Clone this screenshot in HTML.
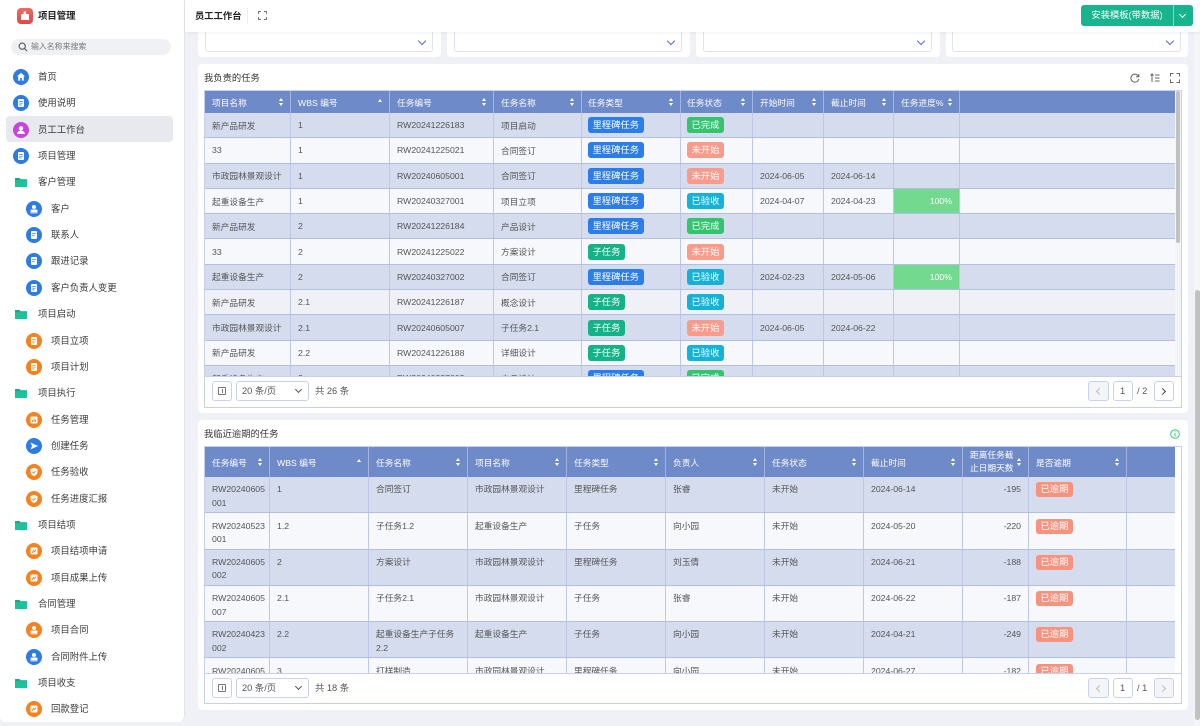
<!DOCTYPE html>
<html><head><meta charset="utf-8">
<style>
*{margin:0;padding:0;box-sizing:border-box}
body{width:1200px;height:726px;overflow:hidden;background:#eff1f6;font-family:"Liberation Sans","Noto Sans CJK SC",sans-serif;position:relative;color:#444}
.a{position:absolute}
/* sidebar */
#sb{position:absolute;left:0;top:0;width:185px;height:722px;background:#fff;border-right:1px solid #e3e5ea;border-radius:0 0 6px 6px}
.mi{position:absolute;font-size:9.4px;line-height:14px;color:#3a3a3a;white-space:nowrap}
.ic{position:absolute;width:16px;height:16px}
.fd{position:absolute;width:12px;height:10px}
/* header */
#hdr{position:absolute;left:185px;top:0;width:1015px;height:32px;background:#fff;box-shadow:0 1px 3px rgba(0,0,0,.06);z-index:5}
/* cards */
.card{position:absolute;background:#fff;border-radius:4px}
.sel{position:absolute;background:#fff;border:1px solid #dfe3ec;border-radius:3px}
.chev{position:absolute;width:6px;height:6px;border-right:1.3px solid #4d72c9;border-bottom:1.3px solid #4d72c9;transform:rotate(45deg)}
/* tables */
.tw{position:absolute;left:204px;width:978px;border:1px solid #c6cfeb;background:#fff}
.t{position:absolute;left:205px;width:970px;overflow:hidden}
.hd{display:flex;background:#6f8ac8;color:#fff;font-size:8.7px}
.hd>div{position:relative;border-right:1px solid #a3b3de;padding-left:7px;display:flex;align-items:center;white-space:nowrap}
.s{position:absolute;right:6px;top:50%;width:5px;height:8px;margin-top:-4px}
.s::before{content:"";position:absolute;left:0;top:0;border-left:2.5px solid transparent;border-right:2.5px solid transparent;border-bottom:3px solid #fff}
.s::after{content:"";position:absolute;left:0;bottom:0;border-left:2.5px solid transparent;border-right:2.5px solid transparent;border-top:3px solid #fff}
.s.up::after{display:none}
.s.up{margin-top:-3px}
.r{display:flex;border-bottom:1px solid #b2bfe4;font-size:8.7px;color:#555}
.r>div{border-right:1px solid #bdc8e9;padding-left:7px;display:flex;align-items:center;white-space:nowrap;overflow:hidden}
.o{background:#d4dcee}.e{background:#f7f8fc}.hv{background:#eff1f6}
.t1 .hd{height:22px}
.t1 .r{height:25.3px}
.t1 .hd>div:nth-child(1),.t1 .r>div:nth-child(1){width:86px}
.t1 .hd>div:nth-child(2),.t1 .r>div:nth-child(2){width:99px}
.t1 .hd>div:nth-child(3),.t1 .r>div:nth-child(3){width:104px}
.t1 .hd>div:nth-child(4),.t1 .r>div:nth-child(4){width:88px}
.t1 .hd>div:nth-child(5),.t1 .r>div:nth-child(5){width:99px;padding-left:6px}
.t1 .hd>div:nth-child(6),.t1 .r>div:nth-child(6){width:72px;padding-left:6px}
.t1 .hd>div:nth-child(7),.t1 .r>div:nth-child(7){width:71px}
.t1 .hd>div:nth-child(8),.t1 .r>div:nth-child(8){width:70px}
.t1 .hd>div:nth-child(9),.t1 .r>div:nth-child(9){width:66px}
.t1 .hd>div:nth-child(10),.t1 .r>div:nth-child(10){width:215px;border-right:none}
.pg{background:#72d98f;color:#fff;justify-content:flex-end;padding-right:7px}
.tag{display:inline-block;height:16px;line-height:16px;padding:0 4.5px;border-radius:3px;color:#fff;font-size:9.3px}
.lc{background:#2b7de9}.zr{background:#14b387}.wc{background:#33c46f}.wk{background:#f89b8b}.ys{background:#15b2d8}.yq{background:#f6937f}
.t2 .hd{height:30px}
.t2 .r{height:36.3px}
.t2 .r>div{align-items:flex-start;padding-top:6.3px;line-height:13.4px;white-space:nowrap}
.t2 .hd>div:nth-child(1),.t2 .r>div:nth-child(1){width:65px}
.t2 .hd>div:nth-child(2),.t2 .r>div:nth-child(2){width:99px}
.t2 .hd>div:nth-child(3),.t2 .r>div:nth-child(3){width:99px}
.t2 .hd>div:nth-child(4),.t2 .r>div:nth-child(4){width:99px}
.t2 .hd>div:nth-child(5),.t2 .r>div:nth-child(5){width:99px}
.t2 .hd>div:nth-child(6),.t2 .r>div:nth-child(6){width:99px}
.t2 .hd>div:nth-child(7),.t2 .r>div:nth-child(7){width:99px}
.t2 .hd>div:nth-child(8),.t2 .r>div:nth-child(8){width:99px}
.t2 .hd>div:nth-child(9),.t2 .r>div:nth-child(9){width:66px}
.t2 .hd>div:nth-child(10),.t2 .r>div:nth-child(10){width:98px}
.t2 .hd>div:nth-child(11),.t2 .r>div:nth-child(11){width:48px;border-right:none}
.t2 .r>div.num{justify-content:flex-end;padding-right:7px;padding-left:0}
.t2 .tag{height:15px;line-height:15px;margin-left:0;margin-top:-1px}
.btn{position:absolute;border:1px solid #c9d2ec;border-radius:3px;background:#fff}
.txt{position:absolute;font-size:9.3px;color:#555;white-space:nowrap;line-height:12px}
</style></head><body>

<!-- SIDEBAR -->
<div id="sb">
  <div class="a" style="left:17px;top:8px;width:16px;height:16px;border-radius:4px;background:linear-gradient(#f06a62,#e04848)"></div>
  <svg class="a" style="left:20px;top:11px" width="10" height="10" viewBox="0 0 10 10"><path d="M1 3h2.5v-1.5a1.3 1.3 0 0 1 2.6 0v1.5h2.9v6h-8z" fill="#fff"/></svg>
  <div class="mi" style="left:38px;top:9px;font-weight:bold;color:#222">项目管理</div>
  <div class="a" style="left:11px;top:39px;width:160px;height:16px;border-radius:8px;background:#f0f1f4"></div>
  <svg class="a" style="left:18px;top:42px" width="10" height="10" viewBox="0 0 10 10"><circle cx="4.2" cy="4.2" r="3.1" fill="none" stroke="#555" stroke-width="1.1"/><path d="M6.5 6.5l2.5 2.5" stroke="#555" stroke-width="1.1"/></svg>
  <div class="mi" style="left:31px;top:40px;font-size:7.9px;color:#777">输入名称来搜索</div>
  <div class="a" style="left:6px;top:116px;width:167px;height:26px;border-radius:4px;background:#e8e9ee"></div>

  <!-- level 0 -->
  <svg class="ic" style="left:13px;top:69px" viewBox="0 0 16 16"><circle cx="8" cy="8" r="8" fill="#2e7be4"/><path d="M8 3.8l4 3.6h-1.2v4.2h-2v-2.6h-1.6v2.6h-2v-4.2h-1.2z" fill="#fff"/></svg>
  <div class="mi" style="left:38px;top:70px">首页</div>
  <svg class="ic" style="left:13px;top:95.3px" viewBox="0 0 16 16"><circle cx="8" cy="8" r="8" fill="#2e7be4"/><rect x="5" y="4" width="6" height="8" rx="1" fill="#fff"/><path d="M6.2 6.5h3.6M6.2 8.2h3.6M6.2 9.9h2.4" stroke="#2e7be4" stroke-width=".7"/></svg>
  <div class="mi" style="left:38px;top:96.3px">使用说明</div>
  <svg class="ic" style="left:13px;top:121.7px" viewBox="0 0 16 16"><circle cx="8" cy="8" r="8" fill="#c844dc"/><circle cx="8" cy="6.3" r="2.2" fill="#fff"/><path d="M4.2 12c0-2.4 1.7-3.4 3.8-3.4s3.8 1 3.8 3.4z" fill="#fff"/></svg>
  <div class="mi" style="left:38px;top:122.7px">员工工作台</div>
  <svg class="ic" style="left:13px;top:148px" viewBox="0 0 16 16"><circle cx="8" cy="8" r="8" fill="#2e7be4"/><rect x="5" y="4" width="6" height="8" rx="1" fill="#fff"/><path d="M6.2 6.5h3.6M6.2 8.2h3.6M6.2 9.9h2.4" stroke="#2e7be4" stroke-width=".7"/></svg>
  <div class="mi" style="left:38px;top:149px">项目管理</div>

  <!-- folders -->
  <svg class="fd" style="left:15px;top:177.4px" viewBox="0 0 12 10"><path d="M0 1h4.5l1 1.2H12V10H0z" fill="#17aa87"/><path d="M0 3.2h12V10H0z" fill="#1cc29a"/></svg>
  <div class="mi" style="left:38px;top:175.4px">客户管理</div>
  <svg class="fd" style="left:15px;top:309.2px" viewBox="0 0 12 10"><path d="M0 1h4.5l1 1.2H12V10H0z" fill="#17aa87"/><path d="M0 3.2h12V10H0z" fill="#1cc29a"/></svg>
  <div class="mi" style="left:38px;top:307.2px">项目启动</div>
  <svg class="fd" style="left:15px;top:388.2px" viewBox="0 0 12 10"><path d="M0 1h4.5l1 1.2H12V10H0z" fill="#17aa87"/><path d="M0 3.2h12V10H0z" fill="#1cc29a"/></svg>
  <div class="mi" style="left:38px;top:386.2px">项目执行</div>
  <svg class="fd" style="left:15px;top:520px" viewBox="0 0 12 10"><path d="M0 1h4.5l1 1.2H12V10H0z" fill="#17aa87"/><path d="M0 3.2h12V10H0z" fill="#1cc29a"/></svg>
  <div class="mi" style="left:38px;top:518px">项目结项</div>
  <svg class="fd" style="left:15px;top:599px" viewBox="0 0 12 10"><path d="M0 1h4.5l1 1.2H12V10H0z" fill="#17aa87"/><path d="M0 3.2h12V10H0z" fill="#1cc29a"/></svg>
  <div class="mi" style="left:38px;top:597px">合同管理</div>
  <svg class="fd" style="left:15px;top:678px" viewBox="0 0 12 10"><path d="M0 1h4.5l1 1.2H12V10H0z" fill="#17aa87"/><path d="M0 3.2h12V10H0z" fill="#1cc29a"/></svg>
  <div class="mi" style="left:38px;top:676px">项目收支</div>

  <!-- level 1 -->
  <svg class="ic" style="left:26px;top:200.7px" viewBox="0 0 16 16"><circle cx="8" cy="8" r="8" fill="#2e7be4"/><circle cx="8" cy="6" r="2" fill="#fff"/><rect x="4.5" y="8.5" width="7" height="2.5" rx=".8" fill="#fff"/><rect x="4.5" y="11.3" width="7" height="1" fill="#fff"/></svg>
  <div class="mi" style="left:51px;top:201.7px">客户</div>
  <svg class="ic" style="left:26px;top:227.1px" viewBox="0 0 16 16"><circle cx="8" cy="8" r="8" fill="#2e7be4"/><rect x="5" y="4" width="6" height="8" rx="1" fill="#fff"/><path d="M6.2 6.5h3.6M6.2 8.4h2.4" stroke="#2e7be4" stroke-width=".8"/></svg>
  <div class="mi" style="left:51px;top:228.1px">联系人</div>
  <svg class="ic" style="left:26px;top:253.4px" viewBox="0 0 16 16"><circle cx="8" cy="8" r="8" fill="#2e7be4"/><rect x="5" y="4" width="6" height="8" rx="1" fill="#fff"/><path d="M6.2 6.5h3.6M6.2 8.4h2.4" stroke="#2e7be4" stroke-width=".8"/></svg>
  <div class="mi" style="left:51px;top:254.4px">跟进记录</div>
  <svg class="ic" style="left:26px;top:279.8px" viewBox="0 0 16 16"><circle cx="8" cy="8" r="8" fill="#2e7be4"/><rect x="5" y="4" width="6" height="8" rx="1" fill="#fff"/><path d="M6.2 6.5h3.6M6.2 8.2h3.6M6.2 9.9h2.4" stroke="#2e7be4" stroke-width=".7"/></svg>
  <div class="mi" style="left:51px;top:280.8px">客户负责人变更</div>
  <svg class="ic" style="left:26px;top:332.5px" viewBox="0 0 16 16"><circle cx="8" cy="8" r="8" fill="#f5821f"/><rect x="5" y="4" width="6" height="8" rx="1" fill="#fff"/><path d="M6.2 6.5h3.6M6.2 8.2h3.6M6.2 9.9h2.4" stroke="#f5821f" stroke-width=".7"/></svg>
  <div class="mi" style="left:51px;top:333.5px">项目立项</div>
  <svg class="ic" style="left:26px;top:358.9px" viewBox="0 0 16 16"><circle cx="8" cy="8" r="8" fill="#f5821f"/><rect x="5" y="4" width="6" height="8" rx="1" fill="#fff"/><path d="M6.2 6.5h3.6M6.2 8.2h3.6M6.2 9.9h2.4" stroke="#f5821f" stroke-width=".7"/></svg>
  <div class="mi" style="left:51px;top:359.9px">项目计划</div>
  <svg class="ic" style="left:26px;top:411.6px" viewBox="0 0 16 16"><circle cx="8" cy="8" r="8" fill="#f5821f"/><rect x="4.5" y="4.5" width="7" height="7" rx="1" fill="#fff"/><path d="M6.5 10V8M8 10V6.5M9.5 10V7.5" stroke="#f5821f" stroke-width=".9"/></svg>
  <div class="mi" style="left:51px;top:412.6px">任务管理</div>
  <svg class="ic" style="left:26px;top:437.9px" viewBox="0 0 16 16"><circle cx="8" cy="8" r="8" fill="#2e7be4"/><path d="M4.5 4.5l7.5 3.5-7.5 3.5 1.5-3.5z" fill="#fff"/></svg>
  <div class="mi" style="left:51px;top:438.9px">创建任务</div>
  <svg class="ic" style="left:26px;top:464.3px" viewBox="0 0 16 16"><circle cx="8" cy="8" r="8" fill="#f5821f"/><path d="M8 3.8l3.5 1.3v2.6c0 2.2-1.5 3.6-3.5 4.4-2-.8-3.5-2.2-3.5-4.4V5.1z" fill="#fff"/><path d="M6.4 7.9l1.2 1.2 2-2" stroke="#f5821f" stroke-width=".9" fill="none"/></svg>
  <div class="mi" style="left:51px;top:465.3px">任务验收</div>
  <svg class="ic" style="left:26px;top:490.6px" viewBox="0 0 16 16"><circle cx="8" cy="8" r="8" fill="#f5821f"/><path d="M8 3.8l3.5 1.3v2.6c0 2.2-1.5 3.6-3.5 4.4-2-.8-3.5-2.2-3.5-4.4V5.1z" fill="#fff"/><path d="M6.4 7.9l1.2 1.2 2-2" stroke="#f5821f" stroke-width=".9" fill="none"/></svg>
  <div class="mi" style="left:51px;top:491.6px">任务进度汇报</div>
  <svg class="ic" style="left:26px;top:543.3px" viewBox="0 0 16 16"><circle cx="8" cy="8" r="8" fill="#f5821f"/><rect x="4.5" y="4.5" width="7" height="7" rx="1" fill="#fff"/><path d="M6 10l1.5-2.5 1 1.2 1.5-2" stroke="#f5821f" stroke-width=".9" fill="none"/></svg>
  <div class="mi" style="left:51px;top:544.3px">项目结项申请</div>
  <svg class="ic" style="left:26px;top:569.7px" viewBox="0 0 16 16"><circle cx="8" cy="8" r="8" fill="#f5821f"/><rect x="4.5" y="4.5" width="7" height="7" rx="1" fill="#fff"/><path d="M6 10l1.5-2.5 1 1.2 1.5-2" stroke="#f5821f" stroke-width=".9" fill="none"/></svg>
  <div class="mi" style="left:51px;top:570.7px">项目成果上传</div>
  <svg class="ic" style="left:26px;top:622.4px" viewBox="0 0 16 16"><circle cx="8" cy="8" r="8" fill="#f5821f"/><circle cx="8" cy="6" r="2" fill="#fff"/><rect x="4.5" y="8.5" width="7" height="2.5" rx=".8" fill="#fff"/><rect x="4.5" y="11.3" width="7" height="1" fill="#fff"/></svg>
  <div class="mi" style="left:51px;top:623.4px">项目合同</div>
  <svg class="ic" style="left:26px;top:648.7px" viewBox="0 0 16 16"><circle cx="8" cy="8" r="8" fill="#2e7be4"/><circle cx="8" cy="6" r="2" fill="#fff"/><rect x="4.5" y="8.5" width="7" height="2.5" rx=".8" fill="#fff"/><rect x="4.5" y="11.3" width="7" height="1" fill="#fff"/></svg>
  <div class="mi" style="left:51px;top:649.7px">合同附件上传</div>
  <svg class="ic" style="left:26px;top:701.4px" viewBox="0 0 16 16"><circle cx="8" cy="8" r="8" fill="#f5821f"/><rect x="4.5" y="4.5" width="7" height="7" rx="1" fill="#fff"/><path d="M6 10l1.5-2.5 1 1.2 1.5-2" stroke="#f5821f" stroke-width=".9" fill="none"/></svg>
  <div class="mi" style="left:51px;top:702.4px">回款登记</div>
</div>

<!-- HEADER -->
<div id="hdr">
  <div class="a" style="left:10px;top:9px;font-size:9.3px;line-height:14px;font-weight:bold;color:#222">员工工作台</div>
  <div class="a" style="left:62px;top:8px;width:1px;height:16px;background:#eee"></div>
  <svg class="a" style="left:73px;top:11px" width="9" height="9" viewBox="0 0 9 9" fill="none" stroke="#777" stroke-width="1"><path d="M0.5 3V0.5H3M6 0.5h2.5V3M8.5 6v2.5H6M3 8.5H0.5V6"/></svg>
  <div class="a" style="left:896px;top:5px;width:112px;height:21px;background:#18b48e;border-radius:3px"></div>
  <div class="a" style="left:896px;top:5px;width:92px;height:21px;line-height:21px;text-align:center;color:#fff;font-size:9.3px">安装模板(带数据)</div>
  <div class="a" style="left:988px;top:5px;width:1px;height:21px;background:rgba(255,255,255,.45)"></div>
  <div class="a" style="left:995px;top:11.5px;width:5px;height:5px;border-right:1.2px solid #fff;border-bottom:1.2px solid #fff;transform:rotate(45deg)"></div>
</div>

<!-- FILTER CARDS -->
<div class="card" style="left:198px;top:20px;width:243px;height:37px"></div>
<div class="card" style="left:447px;top:20px;width:243px;height:37px"></div>
<div class="card" style="left:696px;top:20px;width:244px;height:37px"></div>
<div class="card" style="left:946px;top:20px;width:242px;height:37px"></div>
<div class="sel" style="left:205px;top:20px;width:228px;height:32px"></div>
<div class="sel" style="left:454px;top:20px;width:228px;height:32px"></div>
<div class="sel" style="left:703px;top:20px;width:229px;height:32px"></div>
<div class="sel" style="left:952px;top:20px;width:229px;height:32px"></div>
<div class="chev" style="left:419px;top:37.5px"></div>
<div class="chev" style="left:668px;top:37.5px"></div>
<div class="chev" style="left:918px;top:37.5px"></div>
<div class="chev" style="left:1167px;top:37.5px"></div>

<!-- CARD 1 -->
<div class="card" style="left:198px;top:64px;width:990px;height:349px"></div>
<div class="txt" style="left:204px;top:72px;color:#333">我负责的任务</div>
<svg class="a" style="left:1130px;top:73px" width="10" height="10" viewBox="0 0 10 10" fill="none" stroke="#666" stroke-width="1"><path d="M8.6 3.6A4 4 0 1 0 8.8 6"/><path d="M8.8 1v2.8H6"/></svg>
<svg class="a" style="left:1150px;top:73px" width="10" height="10" viewBox="0 0 10 10" fill="none" stroke="#666" stroke-width="1"><path d="M2 9V1M0.5 2.5L2 1l1.5 1.5M5 2h4.5M5 5h4.5M5 8h4.5"/></svg>
<svg class="a" style="left:1170px;top:73px" width="10" height="10" viewBox="0 0 10 10" fill="none" stroke="#666" stroke-width="1"><path d="M0.5 3.5V0.5h3M6.5 0.5h3v3M9.5 6.5v3h-3M3.5 9.5h-3v-3"/></svg>

<div class="tw" style="top:90px;height:318px"></div>
<div class="t t1" style="top:91px;height:285px">
  <div class="hd">
    <div>项目名称<i class="s"></i></div><div>WBS 编号<i class="s up"></i></div><div>任务编号<i class="s"></i></div><div>任务名称<i class="s"></i></div><div>任务类型<i class="s"></i></div><div>任务状态<i class="s"></i></div><div>开始时间<i class="s"></i></div><div>截止时间<i class="s"></i></div><div>任务进度%<i class="s"></i></div><div></div>
  </div>
  <div class="r o"><div>新产品研发</div><div>1</div><div>RW20241226183</div><div>项目启动</div><div><span class="tag lc">里程碑任务</span></div><div><span class="tag wc">已完成</span></div><div></div><div></div><div></div><div></div></div>
  <div class="r e"><div>33</div><div>1</div><div>RW20241225021</div><div>合同签订</div><div><span class="tag lc">里程碑任务</span></div><div><span class="tag wk">未开始</span></div><div></div><div></div><div></div><div></div></div>
  <div class="r o"><div>市政园林景观设计</div><div>1</div><div>RW20240605001</div><div>合同签订</div><div><span class="tag lc">里程碑任务</span></div><div><span class="tag wk">未开始</span></div><div>2024-06-05</div><div>2024-06-14</div><div></div><div></div></div>
  <div class="r e"><div>起重设备生产</div><div>1</div><div>RW20240327001</div><div>项目立项</div><div><span class="tag lc">里程碑任务</span></div><div><span class="tag ys">已验收</span></div><div>2024-04-07</div><div>2024-04-23</div><div class="pg">100%</div><div></div></div>
  <div class="r o"><div>新产品研发</div><div>2</div><div>RW20241226184</div><div>产品设计</div><div><span class="tag lc">里程碑任务</span></div><div><span class="tag wc">已完成</span></div><div></div><div></div><div></div><div></div></div>
  <div class="r e"><div>33</div><div>2</div><div>RW20241225022</div><div>方案设计</div><div><span class="tag zr">子任务</span></div><div><span class="tag wk">未开始</span></div><div></div><div></div><div></div><div></div></div>
  <div class="r o"><div>起重设备生产</div><div>2</div><div>RW20240327002</div><div>合同签订</div><div><span class="tag lc">里程碑任务</span></div><div><span class="tag ys">已验收</span></div><div>2024-02-23</div><div>2024-05-06</div><div class="pg">100%</div><div></div></div>
  <div class="r hv"><div>新产品研发</div><div>2.1</div><div>RW20241226187</div><div>概念设计</div><div><span class="tag zr">子任务</span></div><div><span class="tag ys">已验收</span></div><div></div><div></div><div></div><div></div></div>
  <div class="r o"><div>市政园林景观设计</div><div>2.1</div><div>RW20240605007</div><div>子任务2.1</div><div><span class="tag zr">子任务</span></div><div><span class="tag wk">未开始</span></div><div>2024-06-05</div><div>2024-06-22</div><div></div><div></div></div>
  <div class="r e"><div>新产品研发</div><div>2.2</div><div>RW20241226188</div><div>详细设计</div><div><span class="tag zr">子任务</span></div><div><span class="tag ys">已验收</span></div><div></div><div></div><div></div><div></div></div>
  <div class="r o"><div>起重设备生产</div><div>3</div><div>RW20240327003</div><div>产品设计</div><div><span class="tag lc">里程碑任务</span></div><div><span class="tag wc">已完成</span></div><div></div><div></div><div></div><div></div></div>
</div>
<!-- table1 scrollbar -->
<div class="a" style="left:1175px;top:91px;width:6px;height:285px;background:#f3f4f7"></div>
<div class="a" style="left:1176px;top:91px;width:4px;height:152px;background:#c1c1c1;border-radius:2px"></div>
<!-- pagination 1 -->
<div class="a" style="left:205px;top:376px;width:976px;height:1px;background:#c6cfeb"></div>
<div class="btn" style="left:212px;top:381px;width:20px;height:20px"></div>
<div class="a" style="left:218px;top:387px;width:8px;height:8px;border:1px solid #777;border-radius:1px"></div>
<div class="a" style="left:221.5px;top:389px;width:1px;height:4px;background:#777"></div>
<div class="btn" style="left:236px;top:381px;width:73px;height:20px"></div>
<div class="txt" style="left:242px;top:385px">20 条/页</div>
<div class="a" style="left:296px;top:386.5px;width:5px;height:5px;border-right:1.1px solid #555;border-bottom:1.1px solid #555;transform:rotate(45deg)"></div>
<div class="txt" style="left:315px;top:385px">共 26 条</div>
<div class="btn" style="left:1088px;top:381px;width:21px;height:20px;background:#f4f5f8"></div>
<div class="a" style="left:1097px;top:388.5px;width:5px;height:5px;border-left:1px solid #bbb;border-bottom:1px solid #bbb;transform:rotate(45deg)"></div>
<div class="btn" style="left:1113px;top:381px;width:20px;height:20px"></div>
<div class="txt" style="left:1120px;top:385px">1</div>
<div class="txt" style="left:1137px;top:385px">/ 2</div>
<div class="btn" style="left:1154px;top:381px;width:20px;height:20px"></div>
<div class="a" style="left:1160px;top:388.5px;width:5px;height:5px;border-right:1.1px solid #444;border-top:1.1px solid #444;transform:rotate(45deg)"></div>

<!-- CARD 2 -->
<div class="card" style="left:198px;top:420px;width:990px;height:290px"></div>
<div class="txt" style="left:204px;top:428px;color:#333">我临近逾期的任务</div>
<svg class="a" style="left:1170px;top:429px" width="10" height="10" viewBox="0 0 10 10"><circle cx="5" cy="5" r="4.3" fill="none" stroke="#3cc878" stroke-width="1"/><rect x="4.5" y="4.3" width="1" height="3.2" fill="#3cc878"/><rect x="4.5" y="2.4" width="1" height="1" fill="#3cc878"/></svg>

<div class="tw" style="top:446px;height:258px"></div>
<div class="t t2" style="top:447px;height:226px">
  <div class="hd">
    <div>任务编号<i class="s"></i></div><div>WBS 编号<i class="s up"></i></div><div>任务名称<i class="s"></i></div><div>项目名称<i class="s"></i></div><div>任务类型<i class="s"></i></div><div>负责人<i class="s"></i></div><div>任务状态<i class="s"></i></div><div>截止时间<i class="s"></i></div><div style="line-height:13.3px">距离任务截<br>止日期天数<i class="s"></i></div><div>是否逾期<i class="s"></i></div><div></div>
  </div>
  <div class="r o"><div>RW20240605<br>001</div><div>1</div><div>合同签订</div><div>市政园林景观设计</div><div>里程碑任务</div><div>张睿</div><div>未开始</div><div>2024-06-14</div><div class="num">-195</div><div><span class="tag yq">已逾期</span></div><div></div></div>
  <div class="r e"><div>RW20240523<br>001</div><div>1.2</div><div>子任务1.2</div><div>起重设备生产</div><div>子任务</div><div>向小园</div><div>未开始</div><div>2024-05-20</div><div class="num">-220</div><div><span class="tag yq">已逾期</span></div><div></div></div>
  <div class="r o"><div>RW20240605<br>002</div><div>2</div><div>方案设计</div><div>市政园林景观设计</div><div>里程碑任务</div><div>刘玉倩</div><div>未开始</div><div>2024-06-21</div><div class="num">-188</div><div><span class="tag yq">已逾期</span></div><div></div></div>
  <div class="r e"><div>RW20240605<br>007</div><div>2.1</div><div>子任务2.1</div><div>市政园林景观设计</div><div>子任务</div><div>张睿</div><div>未开始</div><div>2024-06-22</div><div class="num">-187</div><div><span class="tag yq">已逾期</span></div><div></div></div>
  <div class="r o"><div>RW20240423<br>002</div><div>2.2</div><div>起重设备生产子任务<br>2.2</div><div>起重设备生产</div><div>子任务</div><div>向小园</div><div>未开始</div><div>2024-04-21</div><div class="num">-249</div><div><span class="tag yq">已逾期</span></div><div></div></div>
  <div class="r e"><div>RW20240605<br>008</div><div>3</div><div>打样制造</div><div>市政园林景观设计</div><div>里程碑任务</div><div>向小园</div><div>未开始</div><div>2024-06-27</div><div class="num">-182</div><div><span class="tag yq">已逾期</span></div><div></div></div>
</div>
<!-- pagination 2 -->
<div class="a" style="left:205px;top:673px;width:976px;height:1px;background:#c6cfeb"></div>
<div class="btn" style="left:212px;top:678px;width:20px;height:20px"></div>
<div class="a" style="left:218px;top:684px;width:8px;height:8px;border:1px solid #777;border-radius:1px"></div>
<div class="a" style="left:221.5px;top:686px;width:1px;height:4px;background:#777"></div>
<div class="btn" style="left:236px;top:678px;width:73px;height:20px"></div>
<div class="txt" style="left:242px;top:682px">20 条/页</div>
<div class="a" style="left:296px;top:683.5px;width:5px;height:5px;border-right:1.1px solid #555;border-bottom:1.1px solid #555;transform:rotate(45deg)"></div>
<div class="txt" style="left:315px;top:682px">共 18 条</div>
<div class="btn" style="left:1088px;top:678px;width:21px;height:20px;background:#f4f5f8"></div>
<div class="a" style="left:1097px;top:685.5px;width:5px;height:5px;border-left:1px solid #bbb;border-bottom:1px solid #bbb;transform:rotate(45deg)"></div>
<div class="btn" style="left:1113px;top:678px;width:20px;height:20px"></div>
<div class="txt" style="left:1120px;top:682px">1</div>
<div class="txt" style="left:1137px;top:682px">/ 1</div>
<div class="btn" style="left:1154px;top:678px;width:20px;height:20px;background:#f4f5f8"></div>
<div class="a" style="left:1160px;top:685.5px;width:5px;height:5px;border-right:1px solid #bbb;border-top:1px solid #bbb;transform:rotate(45deg)"></div>

<!-- page scrollbar -->
<div class="a" style="left:1194px;top:32px;width:6px;height:694px;background:#f4f5f8"></div>
<div class="a" style="left:1195px;top:290px;width:5px;height:430px;background:#c1c1c1;border-radius:3px"></div>
</body></html>
